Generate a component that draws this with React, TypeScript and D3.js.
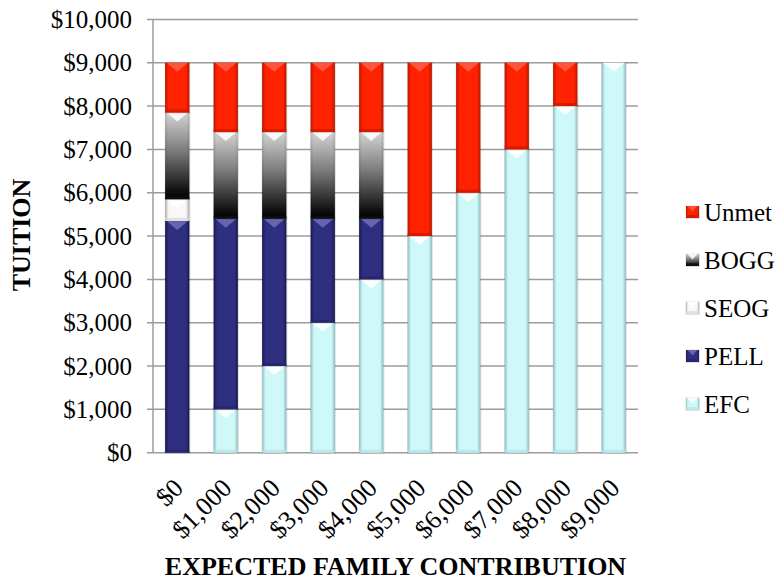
import React from 'react';
import * as d3 from 'd3';

const categories = ['$0', '$1,000', '$2,000', '$3,000', '$4,000', '$5,000', '$6,000', '$7,000', '$8,000', '$9,000'];
const efc = [0, 1000, 2000, 3000, 4000, 5000, 6000, 7000, 8000, 9000];
const pell = [5350, 4400, 3400, 2400, 1400, 0, 0, 0, 0, 0];
const seog = [500, 0, 0, 0, 0, 0, 0, 0, 0, 0];
const bogg = [2000, 2000, 2000, 2000, 2000, 0, 0, 0, 0, 0];
const unmet = [1150, 1600, 1600, 1600, 1600, 4000, 3000, 2000, 1000, 0];
const yTicks = [0, 1000, 2000, 3000, 4000, 5000, 6000, 7000, 8000, 9000, 10000];
const seriesKeys = ['EFC', 'PELL', 'SEOG', 'BOGG', 'Unmet'];
const legendKeys = ['Unmet', 'BOGG', 'SEOG', 'PELL', 'EFC'];

const W = 780, H = 581;
const L = 153, R = 638, T = 19.4, B = 452.7;
const FONT = "'Liberation Serif', 'Times New Roman', serif";

const styles: Record<string, { main: string; edge: string; hi: string; hiOp: number; bottom: string }> = {
  EFC: { main: '#cff8f9', edge: '#a3d6d8', hi: '#ffffff', hiOp: 0.9, bottom: '#b5e2e4' },
  PELL: { main: '#2e2f80', edge: '#1d1d58', hi: '#8a8ad0', hiOp: 0.6, bottom: '#24246a' },
  SEOG: { main: '#f8f8f8', edge: '#c4c4c4', hi: '#ffffff', hiOp: 0.9, bottom: '#d8d8d8' },
  BOGG: { main: '#888888', edge: '#222222', hi: '#ffffff', hiOp: 0.85, bottom: '#111111' },
  Unmet: { main: '#ff2200', edge: '#cc1a00', hi: '#ff7766', hiOp: 0.6, bottom: '#c81800' },
};

export default function App() {
  const rows = categories.map((c, i) => ({
    cat: c, EFC: efc[i], PELL: pell[i], SEOG: seog[i], BOGG: bogg[i], Unmet: unmet[i],
  }));
  const stacked = d3.stack<any>().keys(seriesKeys)(rows);
  const x = d3.scaleBand<string>().domain(categories).range([L, R]).paddingInner(0.5).paddingOuter(0.25);
  const y = d3.scaleLinear().domain([0, 10000]).range([B, T]);
  const bw = x.bandwidth();
  const fmt = (v: number) => '$' + d3.format(',')(v);

  const seg = (key: string, x0: number, y0: number, w: number, h: number, k: string) => {
    if (h <= 0.5) return null;
    const s = styles[key];
    const b = Math.min(w / 2 - 1, h * 0.45, 9);
    const fill = key === 'BOGG' ? 'url(#gBOGG)' : `url(#g${key})`;
    return (
      <g key={k}>
        <rect x={x0 - 0.5} y={y0 - 0.5} width={w + 1.5} height={h + 1.5} fill="#000" opacity={0.12} />
        <rect x={x0} y={y0} width={w} height={h} fill={fill} />
        <rect x={x0} y={y0} width={w} height={h} fill="url(#gEdge)" />
        <polygon
          points={`${x0 + 1.5},${y0} ${x0 + w - 1.5},${y0} ${x0 + w / 2},${y0 + b}`}
          fill={s.hi} opacity={s.hiOp}
        />
        <rect x={x0} y={y0 + h - Math.min(3, h / 4)} width={w} height={Math.min(3, h / 4)} fill={s.bottom} opacity={0.7} />
      </g>
    );
  };

  return (
    <svg width={W} height={H} style={{ position: 'absolute', left: 0, top: 0, background: '#fff' }}>
      <defs>
        {seriesKeys.filter((k) => k !== 'BOGG').map((k) => (
          <linearGradient id={`g${k}`} key={k} x1="0" x2="1" y1="0" y2="0">
            <stop offset="0" stopColor={styles[k].edge} />
            <stop offset="0.15" stopColor={styles[k].main} />
            <stop offset="0.85" stopColor={styles[k].main} />
            <stop offset="1" stopColor={styles[k].edge} />
          </linearGradient>
        ))}
        <linearGradient id="gBOGG" x1="0" x2="0" y1="0" y2="1">
          <stop offset="0" stopColor="#d4d4d4" />
          <stop offset="0.45" stopColor="#7a7a7a" />
          <stop offset="0.9" stopColor="#111111" />
          <stop offset="1" stopColor="#000000" />
        </linearGradient>
        <linearGradient id="gEdge" x1="0" x2="1" y1="0" y2="0">
          <stop offset="0" stopColor="#000" stopOpacity={0.12} />
          <stop offset="0.12" stopColor="#000" stopOpacity={0} />
          <stop offset="0.88" stopColor="#000" stopOpacity={0} />
          <stop offset="1" stopColor="#000" stopOpacity={0.12} />
        </linearGradient>
      </defs>

      {/* gridlines */}
      {yTicks.map((t) => (
        <line key={t} x1={L - 6} x2={R} y1={y(t)} y2={y(t)} stroke="#9c9c9c" strokeWidth={1.5} />
      ))}
      <line x1={L} x2={L} y1={T} y2={B} stroke="#9c9c9c" strokeWidth={1.5} />

      {/* y tick labels */}
      {yTicks.map((t) => (
        <text key={t} x={132} y={y(t)} dy="0.35em" textAnchor="end" fontFamily={FONT} fontSize={25} fill="#000">
          {fmt(t)}
        </text>
      ))}

      {/* bars */}
      {stacked.map((layer) =>
        layer.map((d, i) => {
          const x0 = x(categories[i]) as number;
          const yTop = y(d[1]);
          const yBot = y(d[0]);
          return seg(layer.key, x0, yTop, bw, yBot - yTop, `${layer.key}-${i}`);
        })
      )}

      {/* x tick labels */}
      {categories.map((c) => {
        const cx = (x(c) as number) + bw / 2 + 1;
        return (
          <text key={c} transform={`translate(${cx},${483}) rotate(-45)`} dy="0.35em" textAnchor="end"
            fontFamily={FONT} fontSize={26} fill="#000">
            {c}
          </text>
        );
      })}

      {/* axis titles */}
      <text x={(L + R) / 2} y={575} textAnchor="middle" fontFamily={FONT} fontSize={26} fontWeight="bold" fill="#000">
        EXPECTED FAMILY CONTRIBUTION
      </text>
      <text transform={`translate(30,${235}) rotate(-90)`} textAnchor="middle" fontFamily={FONT} fontSize={26}
        fontWeight="bold" fill="#000">
        TUITION
      </text>

      {/* legend */}
      {legendKeys.map((k, i) => {
        const cy = 212 + i * 48;
        return (
          <g key={k}>
            {seg(k, 686, cy - 6, 13, 12, 'lg' + k)}
            <text x={704} y={cy} dy="0.35em" fontFamily={FONT} fontSize={25} fill="#000">
              {k}
            </text>
          </g>
        );
      })}
    </svg>
  );
}
